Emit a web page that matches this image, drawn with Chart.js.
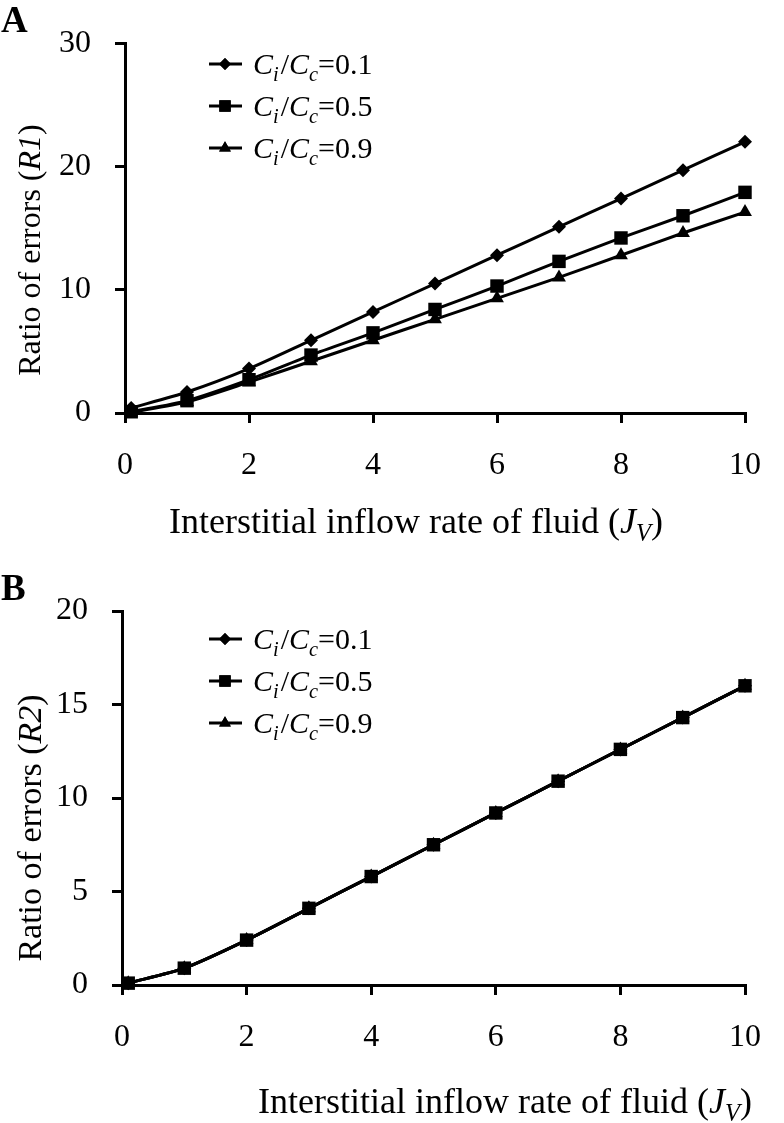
<!DOCTYPE html>
<html>
<head>
<meta charset="utf-8">
<script src="https://cdn.jsdelivr.net/npm/chart.js@4/dist/chart.umd.min.js"></script>
<style>
  body { margin: 0; background: #fff; }
  .panel { position: absolute; left: 0; width: 784px; }
  #wrapA { top: 0; height: 560px; }
  #wrapB { top: 560px; height: 563px; }
</style>
</head>
<body>
<div class="panel" id="wrapA"><canvas id="chartA"></canvas></div>
<div class="panel" id="wrapB"><canvas id="chartB"></canvas></div>
<script>
// interstitial inflow rate (J_V)
const jv = [0.1, 1, 2, 3, 4, 5, 6, 7, 8, 9, 10];
const ratios = ["0.1", "0.5", "0.9"];

// panel A: R1
const r1_01 = [0.4, 1.7, 3.6, 5.9, 8.2, 10.5, 12.8, 15.1, 17.4, 19.7, 22.0];
const r1_05 = [0.1, 1.0, 2.7, 4.7, 6.5, 8.4, 10.3, 12.3, 14.2, 16.0, 17.9];
const r1_09 = [0.05, 0.9, 2.5, 4.2, 5.9, 7.6, 9.3, 11.0, 12.8, 14.6, 16.3];

// panel B: R2 (all three curves coincide)
const r2_01 = [0.1, 0.9, 2.4, 4.1, 5.8, 7.5, 9.2, 10.9, 12.6, 14.3, 16.0];
const r2_05 = [0.1, 0.9, 2.4, 4.1, 5.8, 7.5, 9.2, 10.9, 12.6, 14.3, 16.0];
const r2_09 = [0.1, 0.9, 2.4, 4.1, 5.8, 7.5, 9.2, 10.9, 12.6, 14.3, 16.0];

const xTicks = [0, 2, 4, 6, 8, 10];
const FONT = "'Liberation Serif', 'Times New Roman', serif";

const markers = [
  { pointStyle: 'rectRot', radius: 7 },
  { pointStyle: 'rect', radius: 9.5 },
  { pointStyle: 'triangle', radius: 8 }
];

function makeSets(series) {
  return series.map((ys, i) => ({
    data: ys.map((y, k) => ({ x: jv[k], y })),
    borderColor: '#000',
    backgroundColor: '#000',
    borderWidth: 3,
    pointStyle: markers[i].pointStyle,
    pointRadius: markers[i].radius,
    pointBorderWidth: 0,
    tension: 0.25,
    clip: false
  }));
}

// draw text made of runs: {t, it (italic), sub}
function drawRuns(ctx, runs, x, y, size, align) {
  const fontOf = r => (r.it ? 'italic ' : '') + (r.sub ? size * 0.68 : size) + 'px ' + FONT;
  let w = 0;
  runs.forEach(r => { ctx.font = fontOf(r); w += ctx.measureText(r.t).width + (r.gap || 0); });
  let cx = align === 'center' ? x - w / 2 : x;
  ctx.textAlign = 'left';
  ctx.textBaseline = 'alphabetic';
  runs.forEach(r => {
    ctx.font = fontOf(r);
    ctx.fillText(r.t, cx, y + (r.sub ? size * 0.22 : 0));
    cx += ctx.measureText(r.t).width + (r.gap || 0);
  });
}

function ratioRuns(v) {
  return [
    { t: 'C', it: true }, { t: 'i', it: true, sub: true, gap: 2 },
    { t: '/' }, { t: 'C', it: true }, { t: 'c', it: true, sub: true },
    { t: '=' + v }
  ];
}

function decorations(opts) {
  return {
    id: 'deco',
    afterDraw(chart) {
      const ctx = chart.ctx;
      ctx.save();
      ctx.fillStyle = '#000';
      // panel letter
      ctx.font = 'bold 37px ' + FONT;
      ctx.textAlign = 'left';
      ctx.textBaseline = 'alphabetic';
      ctx.fillText(opts.letter, 1, opts.letterY);
      // legend
      chart.data.datasets.forEach((ds, i) => {
        const ly = opts.legendY + i * opts.legendGap;
        ctx.strokeStyle = '#000';
        ctx.lineWidth = 3;
        ctx.beginPath();
        ctx.moveTo(opts.legendX, ly);
        ctx.lineTo(opts.legendX + 33, ly);
        ctx.stroke();
        Chart.helpers.drawPoint(ctx, {
          pointStyle: ds.pointStyle, radius: ds.pointRadius * 0.85, rotation: 0, borderWidth: 0
        }, opts.legendX + 16, ly);
        ctx.fill();
        drawRuns(ctx, ratioRuns(ratios[i]), opts.legendX + 44, ly + 10, 30, 'left');
      });
      // x title
      drawRuns(ctx, [
        { t: 'Interstitial inflow rate of fluid (' },
        { t: 'J', it: true }, { t: 'V', it: true, sub: true },
        { t: ')' }
      ], opts.xTitleX, opts.xTitleY, 36, 'center');
      // y title
      ctx.translate(opts.yTitleX, opts.yTitleMid);
      ctx.rotate(-Math.PI / 2);
      drawRuns(ctx, [
        { t: 'Ratio of errors (' }, { t: opts.rName, it: true }, { t: ')' }
      ], 0, 0, opts.yTitleSize, 'center');
      ctx.restore();
    }
  };
}

function makeChart(id, series, yMax, yStep, box, opts) {
  const canvasH = box.h;
  return new Chart(document.getElementById(id), {
    type: 'line',
    data: { datasets: makeSets(series) },
    options: {
      responsive: true,
      maintainAspectRatio: false,
      animation: false,
      layout: { padding: { left: 0, right: 784 - box.right, top: box.top, bottom: 0 } },
      plugins: { legend: { display: false }, tooltip: { enabled: false } },
      scales: {
        x: {
          type: 'linear', min: 0, max: 10,
          afterBuildTicks: s => { s.ticks = xTicks.map(v => ({ value: v })); },
          afterFit: s => { s.height = canvasH - box.bottom; },
          ticks: { color: '#000', font: { family: FONT, size: 32 }, padding: 23, maxRotation: 0 },
          grid: { drawOnChartArea: false, drawTicks: true, tickLength: 10, color: '#000', lineWidth: 3 },
          border: { display: true, color: '#000', width: 3 }
        },
        y: {
          type: 'linear', min: 0, max: yMax,
          ticks: { stepSize: yStep, color: '#000', font: { family: FONT, size: 32 }, padding: 24 },
          afterFit: s => { s.width = box.left; },
          grid: { drawOnChartArea: false, drawTicks: true, tickLength: 10, color: '#000', lineWidth: 3 },
          border: { display: true, color: '#000', width: 3 }
        }
      }
    },
    plugins: [decorations(opts)]
  });
}

makeChart('chartA', [r1_01, r1_05, r1_09], 30, 10,
  { h: 560, left: 125, right: 766, top: 43, bottom: 413 },
  { letter: 'A', letterY: 32, legendX: 209, legendY: 64, legendGap: 42,
    xTitleX: 416, xTitleY: 533, yTitleX: 40, yTitleMid: 250, yTitleSize: 32, rName: 'R1' });

makeChart('chartB', [r2_01, r2_05, r2_09], 20, 5,
  { h: 563, left: 122, right: 766, top: 51, bottom: 425 },
  { letter: 'B', letterY: 40, legendX: 209, legendY: 79, legendGap: 42,
    xTitleX: 505, xTitleY: 553, yTitleX: 41, yTitleMid: 268, yTitleSize: 34, rName: 'R2' });
</script>
</body>
</html>
